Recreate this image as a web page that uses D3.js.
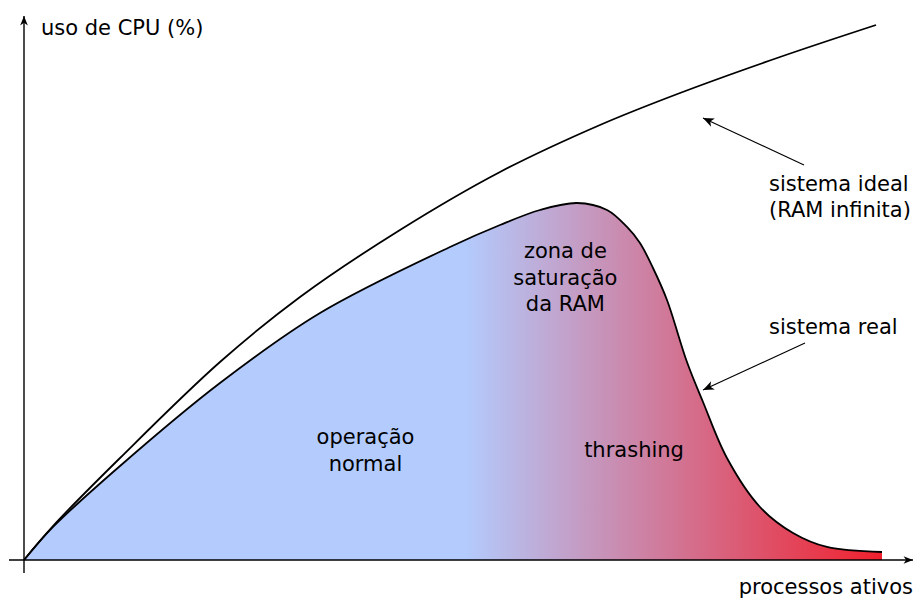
<!DOCTYPE html>
<html>
<head>
<meta charset="utf-8">
<script src="https://cdn.jsdelivr.net/npm/d3@7"></script>
<style>
  html, body { margin: 0; padding: 0; background: #fff; }
  svg { display: block; }
  text { font-family: "DejaVu Sans", sans-serif; font-size: 21px; fill: #000; }
</style>
</head>
<body>
<svg id="chart" width="917" height="601"></svg>
<script>
// ---- data (processos ativos %, uso de CPU %) ----
const idealX = [0, 3.38, 11.19, 22.84, 32.17, 43.82, 55.48, 67.13, 76.46, 88.11, 99.3];
const idealY = [0, 6.34, 19.03, 36.94, 49.07, 61.57, 72.39, 81.16, 87.13, 93.84, 99.81];

const realX = [0, 3.38, 11.19, 22.84, 34.5, 49.65, 55.48, 60.14, 64.45, 67.95, 70.28, 71.79, 73.31, 74.94, 77.27, 79.14, 81.93, 85.78, 89.63, 93.59, 100];
const realY = [0, 6.16, 17.54, 33.02, 46.08, 58.4, 62.5, 65.3, 66.6, 65.3, 62.13, 59.14, 54.48, 48.51, 36.94, 29.48, 19.03, 9.89, 5.04, 2.43, 1.49];

const axisLabels = { y: "uso de CPU (%)", x: "processos ativos" };
const zoneLabels = [
  { lines: ["operação", "normal"], x: 39.8, y: 21.6 },
  { lines: ["zona de", "saturação", "da RAM"], x: 63.1, y: 56.3 },
  { lines: ["thrashing"], x: 71.1, y: 19.2 }
];
const gradientStops = [
  { offset: 51.4, color: "#b3cbfd" },
  { offset: 100, color: "#f0202d" }
];

// ---- scales ----
const svg = d3.select("#chart");
const x = d3.scaleLinear().domain([0, 100]).range([24, 882]);
const y = d3.scaleLinear().domain([0, 100]).range([560, 24]);

const ideal = idealX.map((v, i) => [v, idealY[i]]);
const real = realX.map((v, i) => [v, realY[i]]);

// ---- defs ----
const defs = svg.append("defs");
const grad = defs.append("linearGradient")
  .attr("id", "fillGrad")
  .attr("gradientUnits", "userSpaceOnUse")
  .attr("x1", x(0)).attr("x2", x(100)).attr("y1", 0).attr("y2", 0);
grad.selectAll("stop").data(gradientStops).join("stop")
  .attr("offset", d => d.offset + "%")
  .attr("stop-color", d => d.color);

function marker(id, size) {
  defs.append("marker")
    .attr("id", id)
    .attr("viewBox", "-12 -6 14 12")
    .attr("refX", 0).attr("refY", 0)
    .attr("markerWidth", size).attr("markerHeight", size)
    .attr("markerUnits", "userSpaceOnUse")
    .attr("orient", "auto")
    .append("path")
    .attr("d", "M0,0 L-11,-4.5 L-8,0 L-11,4.5 Z")
    .attr("fill", "#000");
}
marker("arrowAxis", 12);
marker("arrowNote", 14);

const curve = d3.curveCatmullRom.alpha(0.5);

// ---- filled real system area ----
const area = d3.area()
  .x(d => x(d[0]))
  .y0(y(0))
  .y1(d => y(d[1]))
  .curve(curve);
svg.append("path")
  .datum(real)
  .attr("d", area)
  .attr("fill", "url(#fillGrad)");

const line = d3.line()
  .x(d => x(d[0]))
  .y(d => y(d[1]))
  .curve(curve);

svg.append("path")
  .datum(real)
  .attr("d", line)
  .attr("fill", "none")
  .attr("stroke", "#000")
  .attr("stroke-width", 1.8);

svg.append("path")
  .datum(ideal)
  .attr("d", line)
  .attr("fill", "none")
  .attr("stroke", "#000")
  .attr("stroke-width", 1.8);

// ---- axes ----
svg.append("line")
  .attr("x1", x(0) - 15).attr("y1", y(0))
  .attr("x2", 913).attr("y2", y(0))
  .attr("stroke", "#000").attr("stroke-width", 1.4)
  .attr("marker-end", "url(#arrowAxis)");
svg.append("line")
  .attr("x1", x(0)).attr("y1", y(0) + 13)
  .attr("x2", x(0)).attr("y2", 16)
  .attr("stroke", "#000").attr("stroke-width", 1.4)
  .attr("marker-end", "url(#arrowAxis)");

svg.append("text")
  .attr("x", 41).attr("y", 35)
  .text(axisLabels.y);
svg.append("text")
  .attr("x", 913).attr("y", 594)
  .attr("text-anchor", "end")
  .text(axisLabels.x);

// ---- zone labels ----
zoneLabels.forEach(z => {
  const t = svg.append("text")
    .attr("text-anchor", "middle")
    .attr("x", x(z.x)).attr("y", y(z.y));
  z.lines.forEach((l, i) => {
    t.append("tspan")
      .attr("x", x(z.x))
      .attr("dy", i === 0 ? 0 : 26.5)
      .text(l);
  });
});

// ---- annotations ----
const notes = [
  { lines: ["sistema ideal", "(RAM infinita)"], tx: 769, ty: 191, from: [804, 165], to: [703, 118] },
  { lines: ["sistema real"], tx: 769, ty: 334, from: [805, 343], to: [703, 390] }
];
notes.forEach(n => {
  const t = svg.append("text").attr("x", n.tx).attr("y", n.ty);
  n.lines.forEach((l, i) => {
    t.append("tspan").attr("x", n.tx).attr("dy", i === 0 ? 0 : 26).text(l);
  });
  svg.append("line")
    .attr("x1", n.from[0]).attr("y1", n.from[1])
    .attr("x2", n.to[0]).attr("y2", n.to[1])
    .attr("stroke", "#000").attr("stroke-width", 1.1)
    .attr("marker-end", "url(#arrowNote)");
});
</script>
</body>
</html>
